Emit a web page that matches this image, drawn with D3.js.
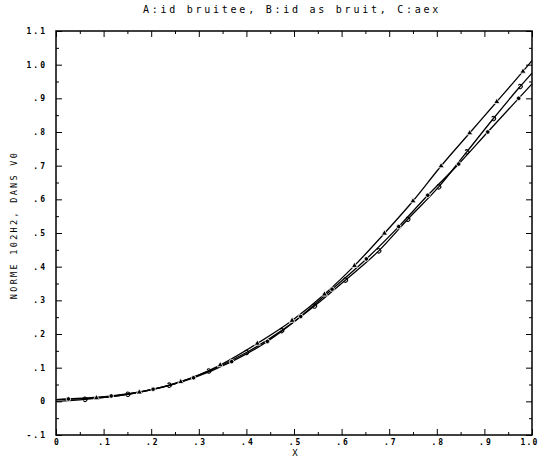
<!DOCTYPE html>
<html>
<head>
<meta charset="utf-8">
<script src="https://cdn.jsdelivr.net/npm/d3@7"></script>
<style>
  html, body { margin: 0; padding: 0; background: #fff; }
  svg { display: block; }
  text { font-family: "DejaVu Sans Mono", "Liberation Mono", monospace; fill: #000; }
</style>
</head>
<body>
<script>
// ---- data ----
const titleText = "A:id bruitee, B:id as bruit, C:aex";
const xLabelText = "X";
const yLabelText = "NORME 102H2, DANS V0";

const xTickValues = [0, 0.1, 0.2, 0.3, 0.4, 0.5, 0.6, 0.7, 0.8, 0.9, 1.0];
const xTickLabels = ["0", ".1", ".2", ".3", ".4", ".5", ".6", ".7", ".8", ".9", "1.0"];
const yTickValues = [-0.1, 0, 0.1, 0.2, 0.3, 0.4, 0.5, 0.6, 0.7, 0.8, 0.9, 1.0, 1.1];
const yTickLabels = ["-.1", "0", ".1", ".2", ".3", ".4", ".5", ".6", ".7", ".8", ".9", "1.0", "1.1"];

// series A : id bruitee
const aX = [0, 0.085, 0.175, 0.262, 0.345, 0.423, 0.496, 0.564, 0.627, 0.69, 0.75, 0.809, 0.869, 0.926, 0.981, 1.0];
const aY = [0.005, 0.01, 0.027, 0.058, 0.108, 0.172, 0.24, 0.318, 0.403, 0.499, 0.595, 0.699, 0.797, 0.89, 0.98, 1.012];
// series B : id sans bruit
const bX = [0, 0.026, 0.116, 0.204, 0.289, 0.369, 0.444, 0.514, 0.58, 0.652, 0.72, 0.781, 0.846, 0.907, 0.972, 1.0];
const bY = [0.005, 0.007, 0.016, 0.036, 0.07, 0.118, 0.178, 0.252, 0.333, 0.423, 0.519, 0.612, 0.705, 0.80, 0.90, 0.943];
// series C : aex
const cX = [0, 0.061, 0.151, 0.238, 0.321, 0.4, 0.474, 0.543, 0.608, 0.678, 0.739, 0.804, 0.863, 0.919, 0.975, 1.0];
const cY = [0.0, 0.006, 0.021, 0.048, 0.09, 0.145, 0.21, 0.283, 0.36, 0.447, 0.541, 0.637, 0.741, 0.84, 0.935, 0.975];

const seriesNames = ["A", "B", "C"];

// ---- layout ----
const W = 539, H = 465;
const L = 56, R = 532, T = 31, B = 435;

const svg = d3.select("body").append("svg").attr("width", W).attr("height", H);
const x = d3.scaleLinear().domain([0, 1]).range([L, R]);
const y = d3.scaleLinear().domain([-0.1, 1.1]).range([B, T]);

const xMinor = d3.range(0, 21).map(i => i * 0.05);
const yMinor = d3.range(0, 25).map(i => -0.1 + i * 0.05);
const isMajor = v => Math.abs(Math.round(v * 10) - v * 10) < 1e-6;

function styleTicks(g) {
  g.select(".domain").remove();
  g.selectAll(".tick line").attr("stroke", "#000").attr("stroke-width", 1);
}

// bottom axis (ticks inward)
const gxB = svg.append("g").attr("transform", `translate(0,${B})`)
  .call(d3.axisBottom(x).tickValues(xMinor).tickSize(0).tickFormat(""));
gxB.selectAll(".tick line").attr("y2", d => isMajor(d) ? -6 : -3);
// top axis
const gxT = svg.append("g").attr("transform", `translate(0,${T})`)
  .call(d3.axisTop(x).tickValues(xMinor).tickSize(0).tickFormat(""));
gxT.selectAll(".tick line").attr("y2", d => isMajor(d) ? 6 : 3);
// left axis
const gyL = svg.append("g").attr("transform", `translate(${L},0)`)
  .call(d3.axisLeft(y).tickValues(yMinor).tickSize(0).tickFormat(""));
gyL.selectAll(".tick line").attr("x2", d => isMajor(d) ? 6 : 3);
// right axis
const gyR = svg.append("g").attr("transform", `translate(${R},0)`)
  .call(d3.axisRight(y).tickValues(yMinor).tickSize(0).tickFormat(""));
gyR.selectAll(".tick line").attr("x2", d => isMajor(d) ? -6 : -3);
[gxB, gxT, gyL, gyR].forEach(g => styleTicks(g));

// frame
svg.append("rect").attr("x", L).attr("y", T).attr("width", R - L).attr("height", B - T)
  .attr("fill", "none").attr("stroke", "#000").attr("stroke-width", 1.5);

// tick labels
const xl = d3.axisBottom(x).tickValues(xTickValues).tickSize(0)
  .tickFormat((d, i) => xTickLabels[i]);
const gxl = svg.append("g").attr("transform", `translate(0,${B})`).call(xl);
gxl.select(".domain").remove();
gxl.selectAll("text").attr("font-size", 8).attr("font-weight", "bold")
  .attr("font-family", "DejaVu Sans Mono").attr("letter-spacing", 2)
  .attr("dy", "0.71em").attr("y", 4).attr("dx", 1);
// keep the last label inside the picture
gxl.selectAll("text").filter(d => d === 1.0)
  .attr("text-anchor", "end").attr("letter-spacing", 1.2).attr("dx", 0).attr("x", 6);

const yl = d3.axisLeft(y).tickValues(yTickValues).tickSize(0)
  .tickFormat((d, i) => yTickLabels[i]);
const gyl = svg.append("g").attr("transform", `translate(${L},0)`).call(yl);
gyl.select(".domain").remove();
gyl.selectAll("text").attr("font-size", 8).attr("font-weight", "bold")
  .attr("font-family", "DejaVu Sans Mono").attr("letter-spacing", 2)
  .attr("x", -9).attr("dy", "0.32em");

// title
svg.append("text").attr("x", 292).attr("y", 13).attr("text-anchor", "middle")
  .attr("font-size", 10).attr("letter-spacing", 2.75).text(titleText);
// x label
svg.append("text").attr("x", 295).attr("y", 456).attr("text-anchor", "middle")
  .attr("font-size", 9).text(xLabelText);
// y label
svg.append("text").attr("transform", `translate(17,225) rotate(-90)`)
  .attr("text-anchor", "middle").attr("font-size", 8.5).attr("letter-spacing", 2.3)
  .text(yLabelText);

// series
const series = [
  { name: "A", xs: aX, ys: aY },
  { name: "B", xs: bX, ys: bY },
  { name: "C", xs: cX, ys: cY }
];
const line = d3.line().x(d => x(d[0])).y(d => y(d[1])).curve(d3.curveMonotoneX);
const plot = svg.append("g");
series.forEach(s => {
  const pts = s.xs.map((v, i) => [v, s.ys[i]]);
  plot.append("path").datum(pts).attr("d", line)
    .attr("fill", "none").attr("stroke", "#000").attr("stroke-width", 1.3);
});

// markers (all interior points)
const symA = d3.symbol().type(d3.symbolTriangle).size(16);
const symB = d3.symbol().type(d3.symbolCircle).size(16);
series.forEach(s => {
  const pts = s.xs.map((v, i) => [v, s.ys[i]]).slice(1, -1);
  const g = plot.append("g");
  if (s.name === "A") {
    g.selectAll("path").data(pts).join("path")
      .attr("transform", d => `translate(${x(d[0])},${y(d[1])})`)
      .attr("d", symA()).attr("fill", "#000").attr("stroke", "#fff").attr("stroke-width", 0.8);
  } else if (s.name === "B") {
    g.selectAll("path").data(pts).join("path")
      .attr("transform", d => `translate(${x(d[0])},${y(d[1])})`)
      .attr("d", symB()).attr("fill", "#000").attr("stroke", "#fff").attr("stroke-width", 0.8);
  } else {
    const arc = d3.arc().innerRadius(1.6).outerRadius(2.6).startAngle(0.6).endAngle(Math.PI * 2 - 0.6);
    g.selectAll("path").data(pts).join("path")
      .attr("transform", d => `translate(${x(d[0])},${y(d[1])}) rotate(-90)`)
      .attr("d", arc()).attr("fill", "#000");
  }
});
</script>
</body>
</html>
